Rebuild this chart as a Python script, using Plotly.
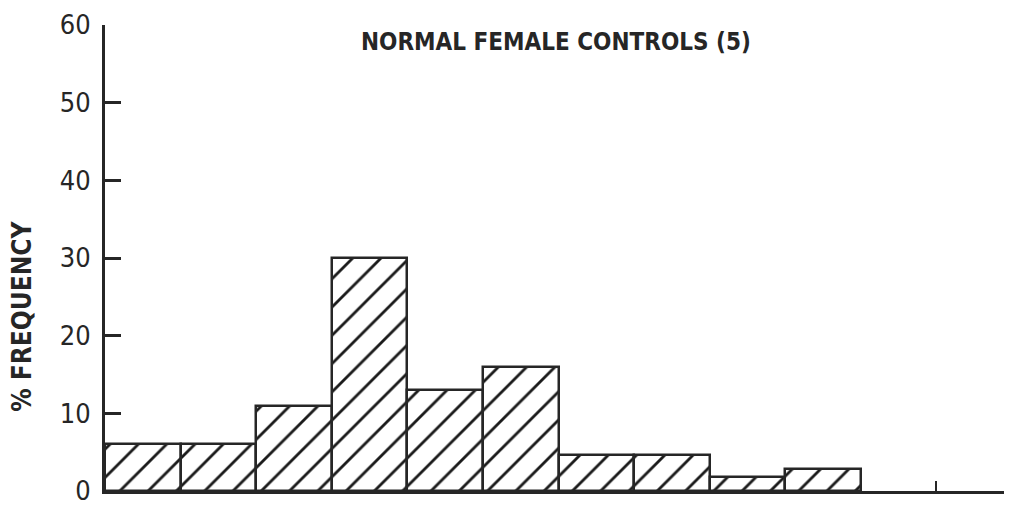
import plotly.graph_objects as go

# histogram bins (bin index) and % frequency
bins = [1, 2, 3, 4, 5, 6, 7, 8, 9, 10]
freq = [6, 6, 11, 30, 13, 16, 4.7, 4.7, 1.8, 2.8]
y_ticks = [0, 10, 20, 30, 40, 50, 60]

INK = "#262626"
FONT = "Liberation Sans Narrow, DejaVu Sans Condensed, Arial Narrow, sans-serif"

fig = go.Figure()
fig.add_trace(go.Bar(
    x=[b - 0.5 for b in bins], y=freq, width=1,
    marker=dict(
        color="white",
        line=dict(color=INK, width=2.5),
        pattern=dict(shape="/", fgcolor="#1a1a1a", fgopacity=1, bgcolor="white",
                     size=20, solidity=0.14, fillmode="replace"),
    ),
    hoverinfo="x+y",
))

# page body has an 8px margin, so the figure is sized/offset to fill the window
fig.update_layout(
    width=1004, height=498,
    paper_bgcolor="white", plot_bgcolor="white",
    margin=dict(l=97, r=0, t=17, b=13),
    showlegend=False,
    bargap=0,
    font=dict(family=FONT, color=INK),
    xaxis=dict(range=[0, 12], showgrid=False, zeroline=False,
               showline=True, linecolor=INK, linewidth=3,
               tickvals=[11], ticks="inside", ticklen=10, tickwidth=2, tickcolor=INK,
               showticklabels=False),
    yaxis=dict(range=[0, 60], showgrid=False, zeroline=False,
               showline=True, linecolor=INK, linewidth=3,
               tickvals=y_ticks, ticks="inside", ticklen=16, tickwidth=2.5, tickcolor=INK,
               tickfont=dict(size=27, family=FONT, color=INK), ticklabelstandoff=6,
               ticklabeloverflow="allow"),
    annotations=[
        dict(text="<b>NORMAL FEMALE CONTROLS (5)</b>", xref="paper", yref="paper",
             x=0.497, y=0.964, xanchor="center", yanchor="middle", showarrow=False,
             font=dict(size=24, family=FONT, color=INK)),
        dict(text="<b>% FREQUENCY</b>", xref="paper", yref="paper", textangle=-90,
             x=-0.0915, y=0.374, xanchor="center", yanchor="middle", showarrow=False,
             font=dict(size=26, family=FONT, color=INK)),
    ],
)

fig.write_html("out.html")
